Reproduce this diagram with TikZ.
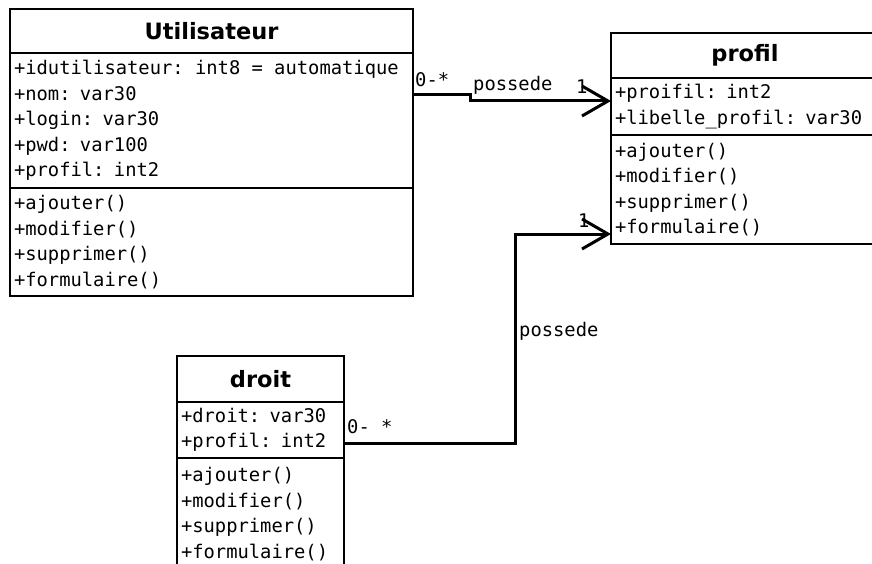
\documentclass[tikz,border=0pt]{standalone}
\usepackage{fontspec}
\setsansfont{DejaVu Sans}
\setmonofont{DejaVu Sans Mono}
\usetikzlibrary{positioning,arrows.meta}
\newcommand\umlmono{\ttfamily\fontsize{18.8}{25.5}\selectfont\spaceskip 11.3pt plus 0pt minus 0pt\relax}
\newcommand\esp{\hspace*{11.3pt}}
\begin{document}
\begin{tikzpicture}[x=1pt,y=-1pt,node distance=0pt,
		classe/.style={draw,line width=2.5pt,outer sep=0pt,inner xsep=4pt,inner ysep=0pt,align=left,
			font=\umlmono},
		titre/.style={classe,align=center,font=\sffamily\bfseries\fontsize{22.5}{25}\selectfont},
		lbl/.style={inner sep=0pt,anchor=base west,font=\umlmono},
		assoc/.style={line width=3pt,-{Straight Barb[length=26pt,width=30pt]}}]
		\clip (0,0) rectangle (872,564);
		% Utilisateur
		\node[titre,anchor=north west,text width=395pt,minimum height=44pt] (utitre) at (10,9) {Utilisateur};
		\node[classe,below=of utitre,text width=395pt,minimum height=135pt] (uattr)
			{+idutilisateur:\esp int8\esp=\esp automatique\\+nom: var30\\+login: var30\\+pwd: var100\\+profil: int2};
		\node[classe,below=of uattr,text width=395pt,minimum height=108pt] (umeth)
			{+ajouter()\\+modifier()\\+supprimer()\\+formulaire()};
		% profil
		\node[titre,anchor=north west,text width=260pt,minimum height=45pt] (ptitre) at (611,33) {profil};
		\node[classe,below=of ptitre,text width=260pt,minimum height=57pt] (pattr)
			{+proifil: int2\\+libelle\_profil: var30};
		\node[classe,below=of pattr,text width=260pt,minimum height=109pt] (pmeth)
			{+ajouter()\\+modifier()\\+supprimer()\\+formulaire()};
		% droit
		\node[titre,anchor=north west,text width=159pt,minimum height=46pt] (dtitre) at (177,356) {droit};
		\node[classe,below=of dtitre,text width=159pt,minimum height=56pt] (dattr)
			{+droit: var30\\+profil: int2};
		\node[classe,below=of dattr,text width=159pt,minimum height=112pt] (dmeth)
			{+ajouter()\\+modifier()\\+supprimer()\\+formulaire()};
		% associations
		\draw[assoc] ([yshift=-42pt]uattr.north east) -- ++(57,0) |- ([yshift=-23pt]pattr.north west);
		\draw[assoc] ([yshift=-41pt]dattr.north east) -- ++(171,0) |- ([yshift=-99pt]pmeth.north west);
		\node[lbl] (m1) at (415,87) {0-*};
		\node[lbl] (r1) at (473,91) {possede};
		\node[lbl] (n1) at (576,94) {1};
		\node[lbl] (m2) at (347,433) {0-\esp*};
		\node[lbl] (r2) at (519,336) {possede};
		\node[lbl] (n2) at (578,227) {1};
\end{tikzpicture}
\end{document}
